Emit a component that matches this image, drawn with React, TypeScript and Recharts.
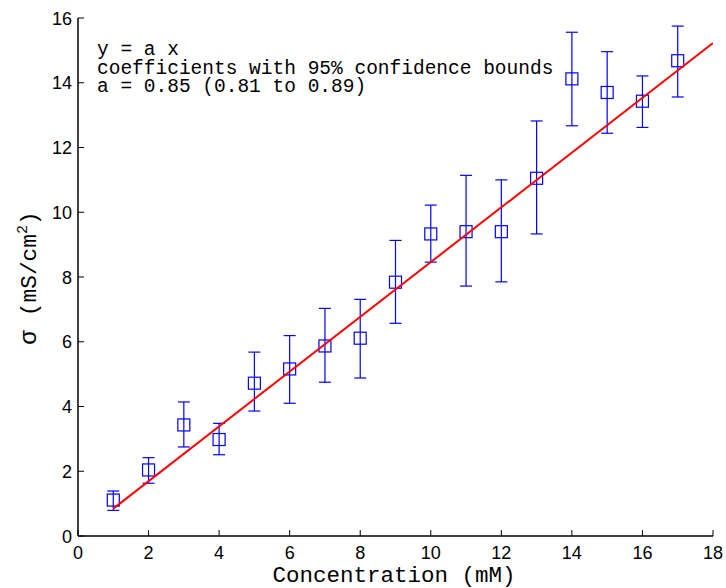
import { ComposedChart, Scatter, ErrorBar, XAxis, YAxis } from 'recharts';

document.body.style.margin = '0';

// measured conductance per concentration, with 95% bounds
const conc = [1, 2, 3, 4, 5, 6, 7, 8, 9, 10, 11, 12, 13, 14, 15, 16, 17];
const sigma = [1.11, 2.04, 3.43, 2.98, 4.72, 5.16, 5.87, 6.11, 7.84, 9.33, 9.4, 9.4, 11.05, 14.12, 13.7, 13.43, 14.68];
const lower = [0.79, 1.63, 2.75, 2.51, 3.86, 4.1, 4.75, 4.88, 6.57, 8.46, 7.72, 7.85, 9.33, 12.67, 12.44, 12.62, 13.56];
const upper = [1.39, 2.42, 4.14, 3.48, 5.68, 6.19, 7.03, 7.31, 9.13, 10.22, 11.14, 11.0, 12.82, 15.56, 14.96, 14.21, 15.75];

// fitted line y = a x
const slope = 0.846;
const fitX = [1, 18];

const xTicks = [0, 2, 4, 6, 8, 10, 12, 14, 16, 18];
const yTicks = [0, 2, 4, 6, 8, 10, 12, 14, 16];

const points = conc.map((x, i) => ({ x, y: sigma[i], err: [sigma[i] - lower[i], upper[i] - sigma[i]] }));
const fit = fitX.map((x) => ({ x, y: slope * x }));

const tickFont = { fontFamily: 'Liberation Sans, Arial, sans-serif', fontSize: 18, fill: '#000' };
const mono = 'Liberation Mono, Courier New, monospace';
const axisLine = { stroke: '#000', strokeWidth: 1.5 };

const BottomTick = (p: any) => (
  <g>
    <line x1={p.x} y1={p.y} x2={p.x} y2={p.y - 6} stroke="#000" />
    <text x={p.x} y={p.y + 23} textAnchor="middle" {...tickFont}>{p.payload.value}</text>
  </g>
);
const LeftTick = (p: any) => (
  <g>
    <line x1={p.x} y1={p.y} x2={p.x + 6} y2={p.y} stroke="#000" />
    <text x={p.x - 6} y={p.y + 6.5} textAnchor="end" {...tickFont}>{p.payload.value}</text>
  </g>
);
const TopTick = (p: any) => <line x1={p.x} y1={p.y} x2={p.x} y2={p.y + 6} stroke="#000" />;
const RightTick = (p: any) => <line x1={p.x} y1={p.y} x2={p.x - 6} y2={p.y} stroke="#000" />;

const Square = (p: any) => (
  <rect x={p.cx - 6} y={p.cy - 6} width={12} height={12} fill="none" stroke="#0000ff" strokeWidth={1.2} />
);

export default function App() {
  return (
    <div style={{ position: 'relative', width: 726, height: 588, background: '#fff' }}>
      <ComposedChart width={726} height={588} margin={{ top: 18, right: 13, left: 0, bottom: 0 }}>
        <XAxis dataKey="x" type="number" domain={[0, 18]} ticks={xTicks} height={52} tickSize={0} tickMargin={0}
          tickLine={false} tick={BottomTick} axisLine={axisLine} allowDataOverflow />
        <XAxis xAxisId="top" orientation="top" type="number" domain={[0, 18]} ticks={xTicks} height={0} tickSize={0}
          tickMargin={0} tickLine={false} tick={TopTick} axisLine={axisLine} />
        <YAxis dataKey="y" type="number" domain={[0, 16]} ticks={yTicks} width={78} tickSize={0} tickMargin={0}
          tickLine={false} tick={LeftTick} axisLine={axisLine} allowDataOverflow />
        <YAxis yAxisId="right" orientation="right" type="number" domain={[0, 16]} ticks={yTicks} width={0} tickSize={0}
          tickMargin={0} tickLine={false} tick={RightTick} axisLine={axisLine} />
        <Scatter data={points} shape={Square} isAnimationActive={false}>
          <ErrorBar dataKey="err" direction="y" width={6} stroke="#0000ff" strokeWidth={1.2} isAnimationActive={false} />
        </Scatter>
        <Scatter data={fit} line={{ stroke: '#ff0000', strokeWidth: 2 }} shape={() => <g />} isAnimationActive={false} />
      </ComposedChart>
      <svg width={726} height={588} style={{ position: 'absolute', left: 0, top: 0, pointerEvents: 'none' }}>
        <g fontFamily={mono} fontSize={19.5} fill="#000">
          <text x={97} y={55} xmlSpace="preserve">y = a x</text>
          <text x={97} y={73.5} xmlSpace="preserve">coefficients with 95% confidence bounds</text>
          <text x={97} y={92.3} xmlSpace="preserve">a = 0.85 (0.81 to 0.89)</text>
        </g>
        <text x={394} y={581.5} textAnchor="middle" fontFamily={mono} fontSize={22.5} fill="#000">Concentration (mM)</text>
        <text transform="rotate(-90 36 278)" x={36} y={278} textAnchor="middle" fill="#000" xmlSpace="preserve">
          <tspan fontFamily="Liberation Sans, Arial, sans-serif" fontSize={24}>σ</tspan>
          <tspan fontFamily={mono} fontSize={22.8}> (mS/cm</tspan>
          <tspan fontFamily={mono} fontSize={15} dy={-9}>2</tspan>
          <tspan fontFamily={mono} fontSize={22.8} dy={9}>)</tspan>
        </text>
      </svg>
    </div>
  );
}
